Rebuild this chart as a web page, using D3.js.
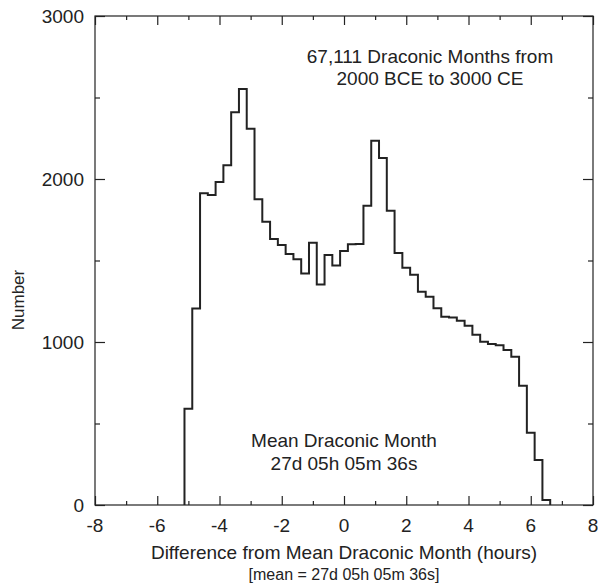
<!DOCTYPE html>
<html><head><meta charset="utf-8">
<script src="https://cdn.jsdelivr.net/npm/d3@7/dist/d3.min.js"></script>
<style>body{margin:0;background:#fff}svg{display:block;font-family:"Liberation Sans",Arial,sans-serif}</style>
</head><body>
<svg id="c" width="598" height="585"></svg>
<script>
// bin centres (hours) and counts, bin width 0.25 h
const binCenters = [-5.0,-4.75,-4.5,-4.25,-4.0,-3.75,-3.5,-3.25,-3.0,-2.75,-2.5,-2.25,-2.0,-1.75,-1.5,-1.25,-1.0,-0.75,-0.5,-0.25,0.0,0.25,0.5,0.75,1.0,1.25,1.5,1.75,2.0,2.25,2.5,2.75,3.0,3.25,3.5,3.75,4.0,4.25,4.5,4.75,5.0,5.25,5.5,5.75,6.0,6.25,6.5];
const counts = [590,1205,1912,1902,1982,2084,2409,2552,2309,1876,1738,1632,1595,1540,1507,1420,1609,1352,1534,1470,1558,1599,1601,1836,2235,2129,1805,1546,1456,1413,1309,1278,1207,1155,1150,1130,1100,1045,1002,988,980,951,910,732,444,276,31];
const binWidth = 0.25;
const xMajor = [-8,-6,-4,-2,0,2,4,6,8];
const xMinor = [-7,-5,-3,-1,1,3,5,7];
const yMajor = [0,1000,2000,3000];
const yMinor = [500,1500,2500];
const titleLines = ["67,111 Draconic Months from","2000 BCE to 3000 CE"];
const meanLines = ["Mean Draconic Month","27d 05h 05m 36s"];
const xLabel = "Difference from Mean Draconic Month (hours)";
const xSub = "[mean = 27d 05h 05m 36s]";
const yLabel = "Number";

const svg = d3.select("#c");
const L=95,R=593,T=16,B=505;
const x = d3.scaleLinear().domain([-8,8]).range([L,R]);
const y = d3.scaleLinear().domain([0,3000]).range([B,T]);
const col = "#222";

// frame
svg.append("rect").attr("x",L).attr("y",T).attr("width",R-L).attr("height",B-T)
  .attr("fill","none").attr("stroke",col).attr("stroke-width",1.2);

function ticks(axisFn, scale, vals, len, tr){
  const g = svg.append("g").attr("transform",tr)
    .call(axisFn(scale).tickValues(vals).tickSize(len).tickFormat(""));
  g.select(".domain").remove();
  g.selectAll("line").attr("stroke",col).attr("stroke-width",1.2);
}
ticks(d3.axisTop, x, xMajor, 9, `translate(0,${B})`);
ticks(d3.axisTop, x, xMinor, 4, `translate(0,${B})`);
ticks(d3.axisBottom, x, xMajor, 9, `translate(0,${T})`);
ticks(d3.axisBottom, x, xMinor, 4, `translate(0,${T})`);
ticks(d3.axisRight, y, yMajor, 10, `translate(${L},0)`);
ticks(d3.axisRight, y, yMinor, 5, `translate(${L},0)`);
ticks(d3.axisLeft, y, yMajor, 10, `translate(${R},0)`);
ticks(d3.axisLeft, y, yMinor, 5, `translate(${R},0)`);

// tick labels
svg.append("g").selectAll("text").data(xMajor).join("text")
  .attr("x",d=>x(d)).attr("y",532).attr("text-anchor","middle")
  .attr("font-size",19).attr("fill",col).text(d=>d);
svg.append("g").selectAll("text").data(yMajor).join("text")
  .attr("x",84).attr("y",d=>y(d)+7).attr("text-anchor","end")
  .attr("font-size",19).attr("fill",col).text(d=>d);

// histogram step line
const pts = [];
binCenters.forEach((c,i)=>{
  const lo=c-binWidth/2, hi=c+binWidth/2;
  if(i===0) pts.push([lo,0]);
  pts.push([lo,counts[i]]); pts.push([hi,counts[i]]);
  if(i===binCenters.length-1) pts.push([hi,0]);
});
svg.append("path").attr("d", d3.line().x(d=>x(d[0])).y(d=>y(d[1]))(pts))
  .attr("fill","none").attr("stroke",col).attr("stroke-width",2).attr("stroke-linejoin","miter");

// annotations
svg.append("g").selectAll("text").data(titleLines).join("text")
  .attr("x",430).attr("y",(d,i)=>63+i*22).attr("text-anchor","middle")
  .attr("font-size",19).attr("fill",col).text(d=>d);
svg.append("g").selectAll("text").data(meanLines).join("text")
  .attr("x",x(0)).attr("y",(d,i)=>447+i*23).attr("text-anchor","middle")
  .attr("font-size",19).attr("fill",col).text(d=>d);

svg.append("text").attr("x",(L+R)/2).attr("y",559).attr("text-anchor","middle")
  .attr("font-size",19).attr("fill",col).text(xLabel);
svg.append("text").attr("x",(L+R)/2).attr("y",580).attr("text-anchor","middle")
  .attr("font-size",16).attr("fill",col).text(xSub);
svg.append("text").attr("transform","translate(24,300) rotate(-90)").attr("text-anchor","middle")
  .attr("font-size",17).attr("fill",col).text(yLabel);
</script>
</body></html>
